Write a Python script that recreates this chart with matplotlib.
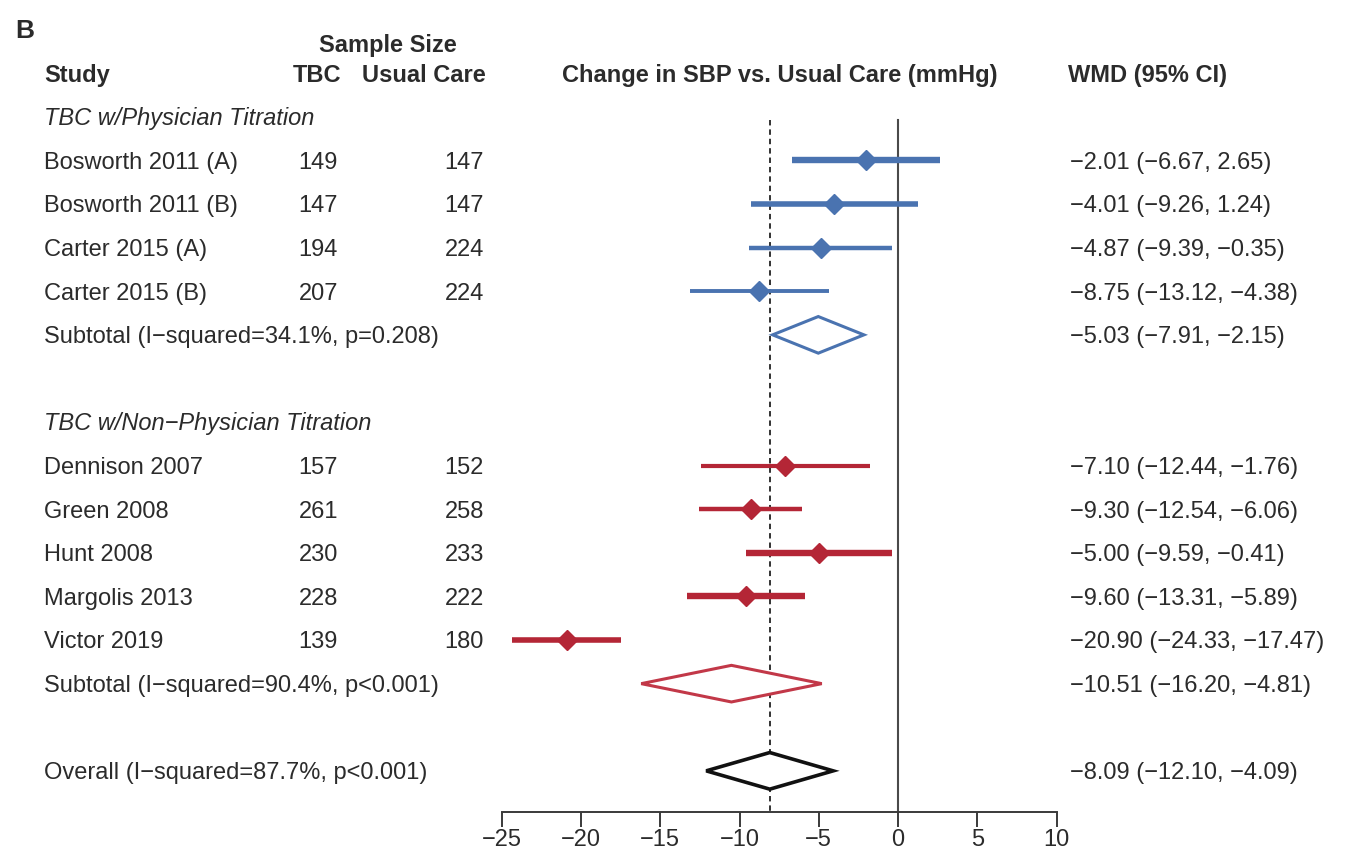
import matplotlib.pyplot as plt
from matplotlib.transforms import blended_transform_factory
from matplotlib.patches import Polygon

plt.rcParams['font.family'] = ['Liberation Sans', 'DejaVu Sans']

# Physician titration studies
phys_study = ['Bosworth 2011 (A)', 'Bosworth 2011 (B)', 'Carter 2015 (A)', 'Carter 2015 (B)']
phys_tbc = [149, 147, 194, 207]
phys_uc = [147, 147, 224, 224]
phys_wmd = [-2.01, -4.01, -4.87, -8.75]
phys_lo = [-6.67, -9.26, -9.39, -13.12]
phys_hi = [2.65, 1.24, -0.35, -4.38]
phys_sub = [-5.03, -7.91, -2.15]
phys_sub_label = 'Subtotal (I\u2212squared=34.1%, p=0.208)'

# Non-physician titration studies
nonp_study = ['Dennison 2007', 'Green 2008', 'Hunt 2008', 'Margolis 2013', 'Victor 2019']
nonp_tbc = [157, 261, 230, 228, 139]
nonp_uc = [152, 258, 233, 222, 180]
nonp_wmd = [-7.10, -9.30, -5.00, -9.60, -20.90]
nonp_lo = [-12.44, -12.54, -9.59, -13.31, -24.33]
nonp_hi = [-1.76, -6.06, -0.41, -5.89, -17.47]
nonp_sub = [-10.51, -16.20, -4.81]
nonp_sub_label = 'Subtotal (I\u2212squared=90.4%, p<0.001)'

overall = [-8.09, -12.10, -4.09]
overall_label = 'Overall (I\u2212squared=87.7%, p<0.001)'

xticks = [-25, -20, -15, -10, -5, 0, 5, 10]

# line weights of the study CIs (study weight)
phys_lw = [4.6, 4.0, 3.2, 2.8]
nonp_lw = [3.0, 3.2, 4.6, 4.6, 4.0]

BLUE = '#4a73b0'
RED = '#b42636'
RED_EDGE = '#c23848'
TXT = '#2b2b2b'
FS = 17
W = 1348

fig = plt.figure(figsize=(13.48, 8.55), dpi=100)
ax = fig.add_axes([0, 0, 1, 1])
ax.set_xlim(-898 / 15.85, 450 / 15.85)
ax.set_ylim(16.93, -2.68)

T = blended_transform_factory(fig.transFigure, ax.transData)


def put(xpx, row, s, **kw):
    kw.setdefault('fontsize', FS)
    kw.setdefault('color', TXT)
    ax.text(xpx / W, row + 0.19, s, transform=T, va='baseline', **kw)


def fmt(m, l, h):
    return f'{m:.2f} ({l:.2f}, {h:.2f})'.replace('-', '\u2212')


def diamond(vals, row, edge, lw):
    m, l, h = vals
    d = 0.42
    ax.add_patch(Polygon([(l, row), (m, row - d), (h, row), (m, row + d)],
                         closed=True, facecolor='white', edgecolor=edge,
                         lw=lw, joinstyle='miter', zorder=4))


# reference lines
ax.plot([0, 0], [0.07, 15.95], color='#4a4a4a', lw=1.5, zorder=1)
ax.plot([overall[0]] * 2, [0.07, 15.95], color='#222222', lw=1.3,
        ls=(0, (3, 2.2)), zorder=1)

# headers
put(15, -2.0, 'B', fontweight='bold', fontsize=19)
put(388, -1.67, 'Sample Size', fontweight='bold', ha='center')
put(44, -1.0, 'Study', fontweight='bold')
put(341, -1.0, 'TBC', fontweight='bold', ha='right')
put(486, -1.0, 'Usual Care', fontweight='bold', ha='right')
put(780, -1.0, 'Change in SBP vs. Usual Care (mmHg)', fontweight='bold', ha='center')
put(1068, -1.0, 'WMD (95% CI)', fontweight='bold')


def group(title, start, study, tbc, uc, wmd, lo, hi, lws, sub, sub_label, color, edge):
    put(44, start, title, style='italic')
    for i in range(len(study)):
        r = start + 1 + i
        put(44, r, study[i])
        put(338, r, str(tbc[i]), ha='right')
        put(484, r, str(uc[i]), ha='right')
        put(1070, r, fmt(wmd[i], lo[i], hi[i]))
        ax.plot([lo[i], hi[i]], [r, r], color=color, lw=lws[i],
                solid_capstyle='butt', zorder=3)
        ax.plot(wmd[i], r, marker='D', ms=10, color=color, mec=color, zorder=3)
    r = start + 1 + len(study)
    put(44, r, sub_label)
    put(1070, r, fmt(*sub))
    diamond(sub, r, edge, 2.2)


group('TBC w/Physician Titration', 0, phys_study, phys_tbc, phys_uc, phys_wmd,
      phys_lo, phys_hi, phys_lw, phys_sub, phys_sub_label, BLUE, BLUE)
group('TBC w/Non\u2212Physician Titration', 7, nonp_study, nonp_tbc, nonp_uc, nonp_wmd,
      nonp_lo, nonp_hi, nonp_lw, nonp_sub, nonp_sub_label, RED, RED_EDGE)

put(44, 15, overall_label)
put(1070, 15, fmt(*overall))
diamond(overall, 15, '#111111', 2.6)

# x axis
for s in ['left', 'right', 'top']:
    ax.spines[s].set_visible(False)
ax.spines['bottom'].set_position(('data', 15.95))
ax.spines['bottom'].set_bounds(-25, 10)
ax.spines['bottom'].set_color('#3a3a3a')
ax.spines['bottom'].set_linewidth(1.4)
ax.set_yticks([])
ax.set_xticks(xticks)
ax.set_xticklabels([str(t).replace('-', '\u2212') for t in xticks])
ax.tick_params(axis='x', direction='out', length=11, width=1.4, color='#3a3a3a',
               labelsize=FS, labelcolor=TXT, pad=1)
ax.patch.set_alpha(0)

fig.savefig('out.png', dpi=100, facecolor='white')
